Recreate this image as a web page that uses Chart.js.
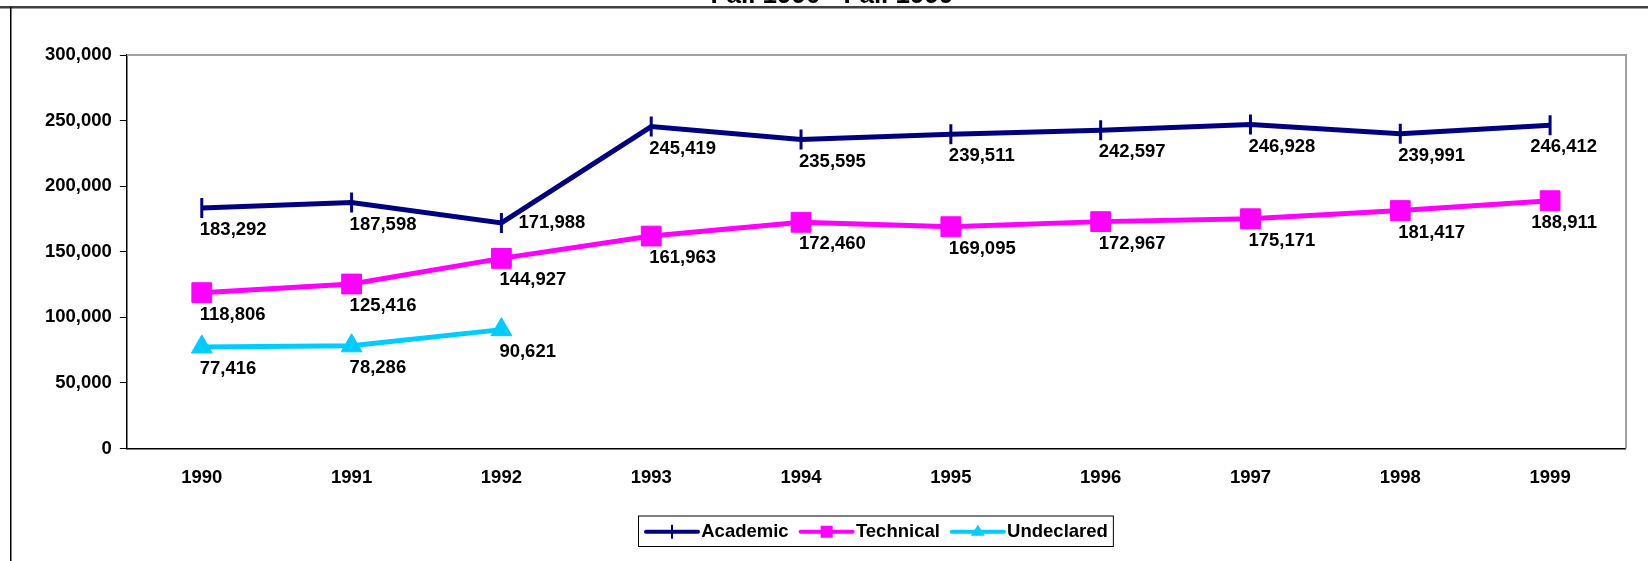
<!DOCTYPE html>
<html>
<head>
<meta charset="utf-8">
<script src="https://cdn.jsdelivr.net/npm/chart.js@4.4.1/dist/chart.umd.min.js"></script>
<style>
    body { margin: 0; background: #fff; }
    #wrap { width: 1648px; height: 561px; position: relative; }
</style>
</head>
<body>
<div id="wrap"><canvas id="line-graph-canvas" width="1648" height="561"></canvas></div>
<script>
// data
const years = ['1990', '1991', '1992', '1993', '1994', '1995', '1996', '1997', '1998', '1999'];
const academic = [183292, 187598, 171988, 245419, 235595, 239511, 242597, 246928, 239991, 246412];
const technical = [118806, 125416, 144927, 161963, 172460, 169095, 172967, 175171, 181417, 188911];
const undeclared = [77416, 78286, 90621, null, null, null, null, null, null, null];
const seriesNames = ['Academic', 'Technical', 'Undeclared'];
const titleText = 'Fall 1990 - Fall 1999';

const FONT = '"Liberation Sans", Arial, sans-serif';
const FSIZE = 18.5;
const NAVY = '#000080';
const PINK = '#FF00FF';
const CYAN = '#00CCFF';

// page frame, title, plot frame and legend box
const decorPlugin = {
    id: 'decor',
    beforeDraw: function(chart) {
        let ctx = chart.ctx;
        ctx.save();
        ctx.fillStyle = '#fff';
        ctx.fillRect(0, 0, chart.width, chart.height);
        ctx.fillStyle = '#404040';
        ctx.fillRect(0, 6, chart.width, 2.5);
        ctx.fillStyle = '#000';
        ctx.fillRect(10, 7, 1.5, chart.height);
        ctx.restore();
    },
    afterDraw: function(chart) {
        let ctx = chart.ctx;
        let a = chart.chartArea;
        ctx.save();
        // title, mostly above the frame
        ctx.font = 'bold 26px ' + FONT;
        ctx.fillStyle = '#000';
        ctx.textAlign = 'center';
        ctx.textBaseline = 'alphabetic';
        ctx.fillText(titleText, 832, 3);

        // grey top and right edge of plot area
        ctx.fillStyle = '#a0a0a0';
        ctx.fillRect(a.left, a.top - 1, a.right - a.left + 2, 2);
        ctx.fillRect(a.right, a.top - 1, 2, a.bottom - a.top + 1);

        // legend samples and frame
        let lg = chart.legend;
        let boxes = lg.legendHitBoxes;
        let colors = [NAVY, PINK, CYAN];
        boxes.forEach(function(b, i) {
            let cy = b.top + b.height / 2;
            ctx.strokeStyle = colors[i];
            ctx.fillStyle = colors[i];
            ctx.lineWidth = 4;
            ctx.lineCap = 'round';
            ctx.beginPath();
            ctx.moveTo(b.left + 2, cy);
            ctx.lineTo(b.left + 54, cy);
            ctx.stroke();
            let cx = b.left + 28;
            if (i === 0) {
                ctx.lineWidth = 2;
                ctx.lineCap = 'butt';
                ctx.beginPath();
                ctx.moveTo(cx, cy - 7);
                ctx.lineTo(cx, cy + 7);
                ctx.stroke();
            } else if (i === 1) {
                ctx.fillRect(cx - 6, cy - 6, 12, 12);
            } else {
                ctx.beginPath();
                ctx.moveTo(cx, cy - 7);
                ctx.lineTo(cx + 7, cy + 4);
                ctx.lineTo(cx - 7, cy + 4);
                ctx.closePath();
                ctx.fill();
            }
        });
        let first = boxes[0];
        let last = boxes[boxes.length - 1];
        ctx.strokeStyle = '#000';
        ctx.lineWidth = 1;
        ctx.strokeRect(first.left - 5.5, first.top - 6.5, last.left + last.width - first.left + 11, first.height + 12);
        ctx.restore();
    }
};

// value labels under each point
const valueLabelPlugin = {
    id: 'valueLabels',
    afterDatasetsDraw: function(chart) {
        let ctx = chart.ctx;
        let a = chart.chartArea;
        ctx.save();
        ctx.font = 'bold ' + FSIZE + 'px ' + FONT;
        ctx.fillStyle = '#000';
        ctx.textBaseline = 'middle';
        ctx.textAlign = 'left';
        chart.data.datasets.forEach(function(ds, di) {
            let meta = chart.getDatasetMeta(di);
            meta.data.forEach(function(pt, i) {
                let v = ds.data[i];
                if (v === null || v === undefined) return;
                let txt = v.toLocaleString('en-US');
                let w = ctx.measureText(txt).width;
                let x = Math.min(pt.x - 2, a.right - w - 28);
                let y = pt.y + 22;
                // move beside the point if another series sits right below
                let crowded = chart.data.datasets.some(function(other, oi) {
                    if (oi === di || other.data[i] === null) return false;
                    let op = chart.getDatasetMeta(oi).data[i];
                    return op.y > pt.y && op.y - pt.y < 40;
                });
                if (crowded) {
                    x = pt.x + 17;
                    y = pt.y;
                }
                ctx.fillText(txt, x, y);
            });
        });
        ctx.restore();
    }
};

let ctx = document.getElementById('line-graph-canvas').getContext('2d');
let chart = new Chart(ctx, {
    type: 'line',
    data: {
        labels: years,
        datasets: [{
            label: seriesNames[0],
            data: academic,
            borderColor: NAVY,
            backgroundColor: NAVY,
            borderWidth: 5,
            pointStyle: 'line',
            rotation: 90,
            pointRadius: 10,
            pointBorderWidth: 3,
            pointBorderColor: NAVY
        }, {
            label: seriesNames[1],
            data: technical,
            borderColor: PINK,
            backgroundColor: PINK,
            borderWidth: 5,
            pointStyle: 'rect',
            pointRadius: 14,
            pointBorderWidth: 1,
            pointBorderColor: PINK
        }, {
            label: seriesNames[2],
            data: undeclared,
            borderColor: CYAN,
            backgroundColor: CYAN,
            borderWidth: 5,
            pointStyle: 'triangle',
            pointRadius: 12,
            pointBorderWidth: 1,
            pointBorderColor: CYAN
        }]
    },
    options: {
        responsive: false,
        animation: false,
        devicePixelRatio: 1,
        events: [],
        elements: { line: { tension: 0 } },
        layout: { padding: { left: 37, right: 23, top: 55, bottom: 10 } },
        scales: {
            x: {
                offset: true,
                grid: { display: false, drawTicks: false },
                border: { display: true, color: '#000', width: 1.5 },
                ticks: {
                    color: '#000',
                    padding: 18,
                    maxRotation: 0,
                    font: { family: FONT, size: FSIZE, weight: 'bold' }
                },
                afterFit: function(axis) { axis.height = 64; }
            },
            y: {
                min: 0,
                max: 300000,
                grid: { drawOnChartArea: false, drawTicks: true, tickLength: 7, color: '#000', lineWidth: 1 },
                border: { display: true, color: '#000', width: 1.5 },
                ticks: {
                    stepSize: 50000,
                    color: '#000',
                    padding: 8,
                    font: { family: FONT, size: FSIZE, weight: 'bold' },
                    callback: function(v) { return v.toLocaleString('en-US'); }
                }
            }
        },
        plugins: {
            title: { display: false },
            tooltip: { enabled: false },
            legend: {
                position: 'bottom',
                fullSize: false,
                labels: {
                    boxWidth: 48,
                    boxHeight: 4,
                    padding: 10,
                    color: '#000',
                    font: { family: FONT, size: FSIZE, weight: 'bold' },
                    generateLabels: function(chart) {
                        return Chart.defaults.plugins.legend.labels.generateLabels(chart).map(function(l) {
                            l.fillStyle = 'rgba(0,0,0,0)';
                            l.strokeStyle = 'rgba(0,0,0,0)';
                            l.lineWidth = 0;
                            return l;
                        });
                    }
                }
            }
        }
    },
    plugins: [decorPlugin, valueLabelPlugin]
});
</script>
</body>
</html>
